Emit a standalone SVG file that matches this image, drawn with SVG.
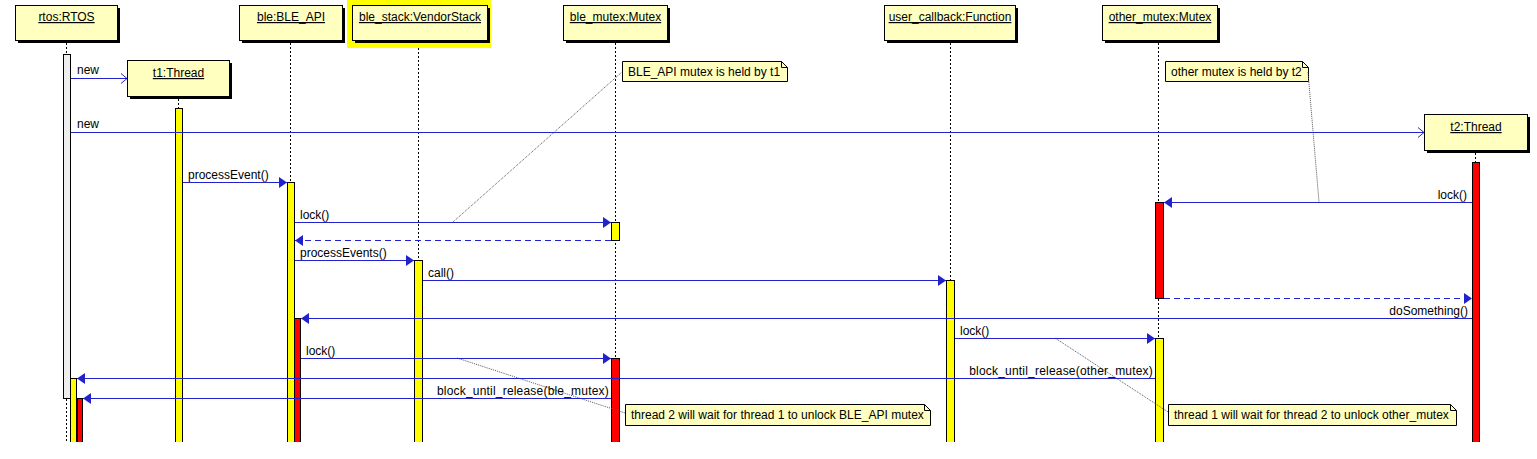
<svg xmlns="http://www.w3.org/2000/svg" width="1537" height="459" viewBox="0 0 1537 459">
<style>
text{font-family:"Liberation Sans",Arial,sans-serif;font-size:12px;fill:#000}
.hd{fill:#FFFFC0;stroke:#000;stroke-width:1}
.sh{fill:#000}
.ht{text-anchor:middle;text-decoration:underline}
.ll{stroke:#000;stroke-width:1;stroke-dasharray:2,2;fill:none}
.ay{fill:#FFFF00;stroke:#000;stroke-width:1}
.ar{fill:#FF0000;stroke:#000;stroke-width:1}
.ag{fill:#EEEEEE;stroke:#000;stroke-width:1}
.m{stroke:#2222CC;stroke-width:1.2;fill:none}
.d{stroke-dasharray:6,4}
.nt{fill:#FFFFC0;stroke:#000;stroke-width:1}
.nc{stroke:#555;stroke-width:1;stroke-dasharray:1,1;fill:none}
.e{text-anchor:end}
.w{letter-spacing:0.2px}
</style>
<defs>
<marker id="fa" markerWidth="9" markerHeight="12" refX="8" refY="6" orient="auto" markerUnits="userSpaceOnUse">
<path d="M0,0.5 L8,6 L0,11.5 Z" fill="#2222CC"/>
</marker>
<marker id="oa" markerWidth="9" markerHeight="12" refX="7" refY="6" orient="auto" markerUnits="userSpaceOnUse">
<path d="M1,1 L7,6 L1,11" fill="none" stroke="#2222CC" stroke-width="1"/>
</marker>
<clipPath id="cl"><rect x="0" y="0" width="1537" height="442"/></clipPath>
</defs>
<rect x="0" y="0" width="1537" height="459" fill="#fff"/>
<g clip-path="url(#cl)">
<g id="rtos">
<rect class="sh" x="18" y="8" width="102" height="35"/>
<rect class="hd" x="15.5" y="5.5" width="102" height="35"/>
<text class="ht" x="66.5" y="21">rtos:RTOS</text>
<line class="ll" x1="66.5" y1="43" x2="66.5" y2="442"/>
<rect class="ag" x="63.5" y="54.5" width="7" height="344"/>
<rect class="ay" x="70.5" y="378.5" width="6" height="80"/>
<rect class="ar" x="77.5" y="398.5" width="5" height="60"/>
</g>
<g id="t1">
<rect class="sh" x="130" y="63" width="102" height="36"/>
<rect class="hd" x="127.5" y="60.5" width="102" height="36"/>
<text class="ht" x="178.5" y="77">t1:Thread</text>
<line class="ll" x1="178.5" y1="99" x2="178.5" y2="442"/>
<rect class="ay" x="175.5" y="108.5" width="7" height="350"/>
</g>
<g id="ble">
<rect class="sh" x="242" y="8" width="103" height="35"/>
<rect class="hd" x="239.5" y="5.5" width="103" height="35"/>
<text class="ht" x="291" y="21">ble:BLE_API</text>
<line class="ll" x1="290.5" y1="43" x2="290.5" y2="442"/>
<rect class="ay" x="287.5" y="182.5" width="7" height="280"/>
<rect class="ar" x="294.5" y="318.5" width="6" height="140"/>
</g>
<g id="ble_stack">
<rect x="347" y="0" width="144" height="48" fill="#FFFF00"/>
<rect class="sh" x="355" y="8" width="135" height="35"/>
<rect class="hd" x="352.5" y="5.5" width="135" height="35"/>
<text class="ht" x="420" y="21">ble_stack:VendorStack</text>
<line class="ll" x1="418.5" y1="48" x2="418.5" y2="442"/>
<rect class="ay" x="414.5" y="260.5" width="8" height="200"/>
</g>
<g id="ble_mutex">
<rect class="sh" x="566" y="8" width="104" height="35"/>
<rect class="hd" x="563.5" y="5.5" width="104" height="35"/>
<text class="ht" x="615.5" y="21">ble_mutex:Mutex</text>
<line class="ll" x1="615.5" y1="43" x2="615.5" y2="442"/>
<rect class="ay" x="611.5" y="222.5" width="8" height="18"/>
<rect class="ar" x="611.5" y="358.5" width="8" height="100"/>
</g>
<g id="user_callback">
<rect class="sh" x="887" y="8" width="131" height="35"/>
<rect class="hd" x="884.5" y="5.5" width="131" height="35"/>
<text class="ht" x="950" y="21">user_callback:Function</text>
<line class="ll" x1="950.5" y1="43" x2="950.5" y2="442"/>
<rect class="ay" x="946.5" y="280.5" width="8" height="180"/>
</g>
<g id="other_mutex">
<rect class="sh" x="1105" y="8" width="115" height="35"/>
<rect class="hd" x="1102.5" y="5.5" width="115" height="35"/>
<text class="ht" x="1160" y="21">other_mutex:Mutex</text>
<line class="ll" x1="1158.5" y1="43" x2="1158.5" y2="442"/>
<rect class="ar" x="1155.5" y="202.5" width="8" height="96"/>
<rect class="ay" x="1155.5" y="338.5" width="8" height="120"/>
</g>
<g id="t2">
<rect class="sh" x="1427" y="117" width="103" height="36"/>
<rect class="hd" x="1424.5" y="114.5" width="103" height="36"/>
<text class="ht" x="1476" y="131">t2:Thread</text>
<line class="ll" x1="1475.5" y1="153" x2="1475.5" y2="442"/>
<rect class="ar" x="1472.5" y="162.5" width="7" height="300"/>
</g>
<g id="notes">
<g id="note1">
<path class="nt" d="M622.5,61.5 H781.5 L787.5,67.5 V81.5 H622.5 Z"/>
<path d="M781.5,61.5 V67.5 H787.5" fill="none" stroke="#000"/>
<text x="628" y="76">BLE_API mutex is held by t1</text>
</g>
<g id="note2">
<path class="nt" d="M1165.5,61.5 H1302.5 L1308.5,67.5 V81.5 H1165.5 Z"/>
<path d="M1302.5,61.5 V67.5 H1308.5" fill="none" stroke="#000"/>
<text x="1171" y="76">other mutex is held by t2</text>
</g>
<g id="note3">
<path class="nt" d="M625.5,404.5 H924.5 L930.5,410.5 V425.5 H625.5 Z"/>
<path d="M924.5,404.5 V410.5 H930.5" fill="none" stroke="#000"/>
<text x="631" y="419">thread 2 will wait for thread 1 to unlock BLE_API mutex</text>
</g>
<g id="note4">
<path class="nt" d="M1168.5,404.5 H1450.5 L1456.5,410.5 V425.5 H1168.5 Z"/>
<path d="M1450.5,404.5 V410.5 H1456.5" fill="none" stroke="#000"/>
<text x="1174" y="419">thread 1 will wait for thread 2 to unlock other_mutex</text>
</g>
</g>
<g id="connectors">
<line class="nc" x1="453" y1="222" x2="622" y2="72"/>
<line class="nc" x1="1308" y1="72" x2="1319" y2="202"/>
<line class="nc" x1="457" y1="358" x2="625" y2="413"/>
<line class="nc" x1="1055" y1="338" x2="1168" y2="412"/>
<line class="m" x1="71" y1="78.5" x2="127" y2="78.5" marker-end="url(#oa)"/>
<text x="77" y="74">new</text>
<line class="m" x1="71" y1="132.5" x2="1424" y2="132.5" marker-end="url(#oa)"/>
<text x="77" y="128">new</text>
<line class="m" x1="183" y1="182.5" x2="287" y2="182.5" marker-end="url(#fa)"/>
<text x="188" y="179">processEvent()</text>
<line class="m" x1="295" y1="222.5" x2="611" y2="222.5" marker-end="url(#fa)"/>
<text x="300" y="219">lock()</text>
<line class="m d" x1="611" y1="240.5" x2="295" y2="240.5" marker-end="url(#fa)"/>
<line class="m" x1="295" y1="260.5" x2="414" y2="260.5" marker-end="url(#fa)"/>
<text x="300" y="257">processEvents()</text>
<line class="m" x1="423" y1="280.5" x2="946" y2="280.5" marker-end="url(#fa)"/>
<text x="428" y="277">call()</text>
<line class="m" x1="1472" y1="202.5" x2="1164" y2="202.5" marker-end="url(#fa)"/>
<text class="e" x="1467" y="199">lock()</text>
<line class="m d" x1="1164" y1="298.5" x2="1472" y2="298.5" marker-end="url(#fa)"/>
<line class="m" x1="1472" y1="318.5" x2="301" y2="318.5" marker-end="url(#fa)"/>
<text class="e" x="1468" y="315">doSomething()</text>
<line class="m" x1="955" y1="338.5" x2="1155" y2="338.5" marker-end="url(#fa)"/>
<text x="960" y="335">lock()</text>
<line class="m" x1="301" y1="358.5" x2="611" y2="358.5" marker-end="url(#fa)"/>
<text x="306" y="355">lock()</text>
<line class="m" x1="1155" y1="378.5" x2="77" y2="378.5" marker-end="url(#fa)"/>
<text class="e w" x="1153" y="375">block_until_release(other_mutex)</text>
<line class="m" x1="611" y1="398.5" x2="83" y2="398.5" marker-end="url(#fa)"/>
<text class="e w" x="609" y="395">block_until_release(ble_mutex)</text>
</g>
</g>
</svg>
